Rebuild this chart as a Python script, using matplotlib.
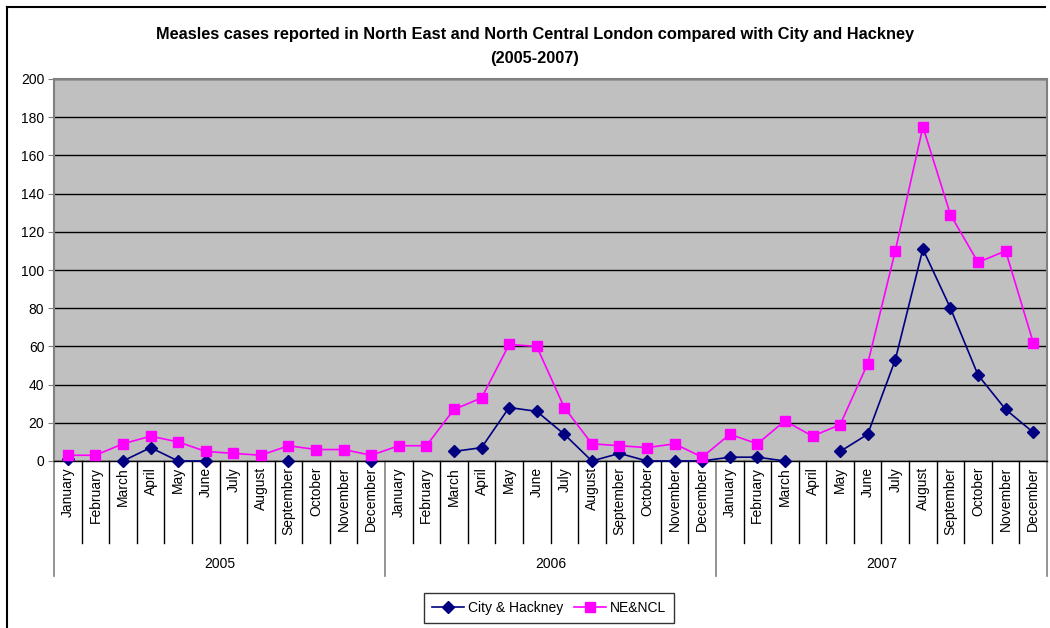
import matplotlib
matplotlib.use("Agg")
import matplotlib.pyplot as plt
from matplotlib.lines import Line2D

plt.rcParams['font.family'] = ['Liberation Sans', 'DejaVu Sans']

months = ['January', 'February', 'March', 'April', 'May', 'June', 'July',
          'August', 'September', 'October', 'November', 'December']
years = ['2005', '2006', '2007']

# None = no value reported (gap in the line)
city_hackney = [1, None, 0, 7, 0, 0, None, None, 0, None, None, 0,
                None, None, 5, 7, 28, 26, 14, 0, 4, 0, 0, 0,
                2, 2, 0, None, 5, 14, 53, 111, 80, 45, 27, 15]
ne_ncl = [3, 3, 9, 13, 10, 5, 4, 3, 8, 6, 6, 3,
          8, 8, 27, 33, 61, 60, 28, 9, 8, 7, 9, 2,
          14, 9, 21, 13, 19, 51, 110, 175, 129, 104, 110, 62]

W, H = 1050, 628
fig = plt.figure(figsize=(W / 100, H / 100), dpi=100)
ax = fig.add_axes([54 / W, (H - 461) / H, (1047 - 54) / W, (461 - 79) / H])

n = len(months) * len(years)
xs = list(range(n))
ch = [float('nan') if v is None else v for v in city_hackney]
ax.plot(xs, ch, color='#000080', marker='D', markersize=6, lw=1.2,
        label='City & Hackney', zorder=3, clip_on=False)
ax.plot(xs, ne_ncl, color='#FF00FF', marker='s', markersize=6.5, lw=1.2,
        label='NE&NCL', zorder=3, clip_on=False)

ax.set_facecolor('#C0C0C0')
ax.set_xlim(-0.5, n - 0.5)
ax.set_ylim(0, 200)
ax.set_yticks(range(0, 201, 20))
ax.yaxis.grid(True, color='black', lw=1)
ax.set_axisbelow(True)
ax.tick_params(axis='y', labelsize=10, length=4, color='#808080', pad=3)
ax.set_xticks([])
for s in ax.spines.values():
    s.set_color('#808080')
    s.set_linewidth(1.5)
ax.spines['bottom'].set_color('black')
ax.spines['bottom'].set_linewidth(1)

# two-level category axis
trans = ax.get_xaxis_transform()
px = 1 / (461 - 79)  # one pixel in axes-fraction units
for i in range(n):
    ax.text(i, -6 * px, months[i % 12], rotation=90, ha='center', va='top',
            fontsize=10, transform=trans)
for i in range(n + 1):
    bottom = -115 * px if i % 12 == 0 else -82 * px
    col = '#808080' if i % 12 == 0 else 'black'
    ax.add_line(Line2D([i - 0.5, i - 0.5], [0, bottom], transform=trans,
                       color=col, lw=1.2 if i % 12 == 0 else 1, clip_on=False))
for j, y in enumerate(years):
    ax.text(12 * j + 5.5, -103 * px, y, ha='center', va='center',
            fontsize=10, transform=trans)

fig.text(535 / W, 1 - 35 / H,
         'Measles cases reported in North East and North Central London compared with City and Hackney',
         ha='center', va='center', fontsize=11.75, fontweight='bold')
fig.text(535 / W, 1 - 58 / H, '(2005-2007)', ha='center', va='center',
         fontsize=11.75, fontweight='bold')

leg = fig.legend(loc='center', bbox_to_anchor=(549 / W, 1 - 608 / H), ncol=2,
                 fontsize=10, frameon=True, fancybox=False, edgecolor='black',
                 borderpad=0.55, handlelength=2.3, columnspacing=0.8,
                 handletextpad=0.3, borderaxespad=0)
leg.get_frame().set_linewidth(1)

# outer chart frame
fig.add_artist(Line2D([7 / W, 7 / W], [0, 1 - 7 / H], color='black', lw=1.5))
fig.add_artist(Line2D([7 / W, 1045 / W], [1 - 7 / H, 1 - 7 / H], color='black', lw=1.5))

fig.savefig('out.png', dpi=100)
